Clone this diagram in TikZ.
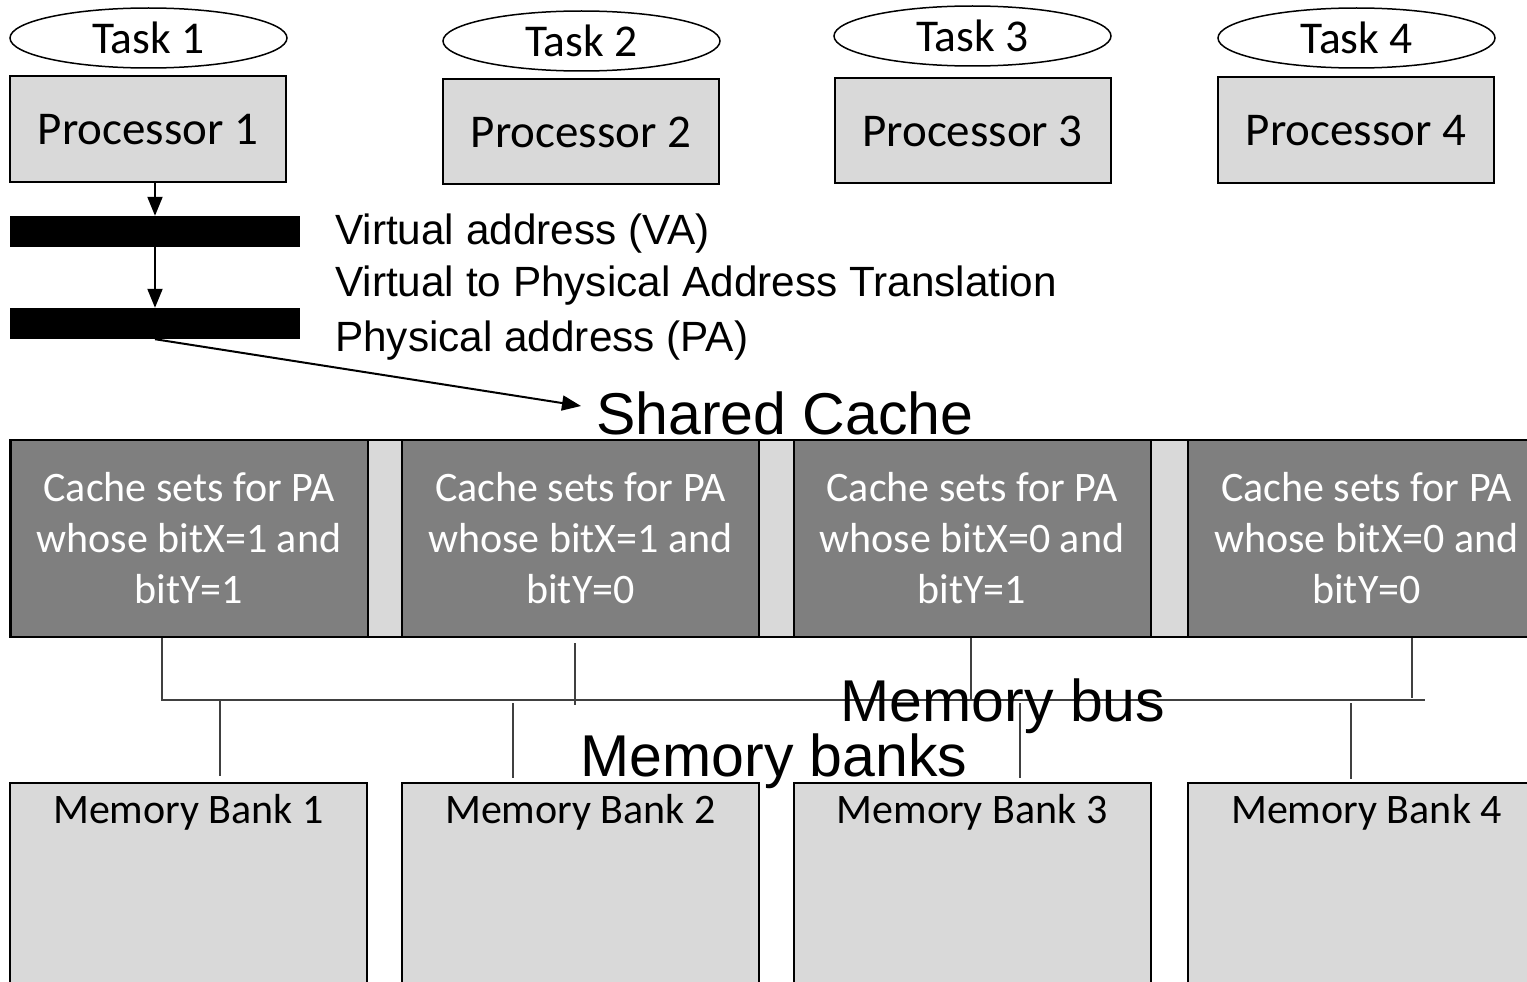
\documentclass[tikz,border=0pt]{standalone}
\usepackage{fontspec}
\setmainfont{Carlito}
\newfontfamily\labelfont{Liberation Sans}
\usetikzlibrary{shapes.geometric,arrows.meta}
\definecolor{boxgray}{HTML}{D9D9D9}
\definecolor{setgray}{HTML}{7F7F7F}
\definecolor{busgray}{HTML}{404040}
\begin{document}
\begin{tikzpicture}[x=1pt,y=-1pt,
  task/.style={ellipse,draw,line width=1.5pt,minimum width=277pt,minimum height=60pt,
    inner sep=0pt,font=\fontsize{45.5}{50}\selectfont},
  proc/.style={rectangle,draw,fill=boxgray,line width=2pt,minimum width=276pt,
    minimum height=105pt,inner sep=0pt,font=\fontsize{47}{56}\selectfont},
  addrbar/.style={rectangle,fill=black,minimum width=290pt,minimum height=31pt,inner sep=0pt},
  addrtext/.style={anchor=west,inner sep=0pt,font=\labelfont\fontsize{42.3}{50}\selectfont},
  bigtext/.style={inner sep=0pt,font=\labelfont\fontsize{59}{66}\selectfont},
  cacherowbg/.style={rectangle,draw,fill=boxgray,line width=2pt,minimum width=1530pt,
    minimum height=197pt,inner sep=0pt},
  cacheset/.style={rectangle,draw,fill=setgray,line width=2pt,text=white,
    minimum width=357pt,minimum height=197pt,inner sep=0pt,align=center,
    font=\fontsize{42}{51}\selectfont},
  bank/.style={rectangle,draw,fill=boxgray,line width=2pt,minimum width=357pt,
    minimum height=230pt,inner sep=0pt},
  banktext/.style={inner sep=0pt,font=\fontsize{42}{50}\selectfont},
  flow/.style={line width=2pt,-{Triangle[length=19pt,width=15pt]}},
  bus/.style={line width=1.2pt,draw=busgray}]

\clip (0,0) rectangle (1527,982);

% tasks and processors
\node[task] (T1) at (148.5,38) {Task 1};
\node[task] (T2) at (581.5,41) {Task 2};
\node[task] (T3) at (972.5,36) {Task 3};
\node[task] (T4) at (1356.5,38) {Task 4};

\node[proc] (P1) at (148,129) {};
\node[proc] (P2) at (581,131.5) {};
\node[proc] (P3) at (972.5,130.5) {};
\node[proc] (P4) at (1356,130) {};
\node[proc,draw=none,fill=none] (P1t) at ([yshift=-1pt]P1.center) {Processor 1};
\node[proc,draw=none,fill=none] (P2t) at ([yshift=-1pt]P2.center) {Processor 2};
\node[proc,draw=none,fill=none] (P3t) at ([yshift=-1pt]P3.center) {Processor 3};
\node[proc,draw=none,fill=none] (P4t) at ([yshift=-1pt]P4.center) {Processor 4};

% address translation
\node[addrbar] (VA) at (155,231.5) {};
\node[addrbar] (PA) at (155,323.5) {};
\node[addrtext] (VAt) at (335,234) {Virtual address (VA)};
\node[addrtext] (TRt) at (335,286) {Virtual to Physical Address Translation};
\node[addrtext] (PAt) at (335,341) {Physical address (PA)};

\draw[flow] (P1.south -| VA.north) -- (VA.north);
\draw[flow] (VA.south) -- (PA.north);

% shared cache
\node[bigtext,anchor=west] (SC) at (596,413) {Shared Cache};
\coordinate (SCin) at (581,406);
\draw[flow] (PA.south) -- (SCin);

\node[cacherowbg] (row) at (775,538.5) {};
\node[cacheset] (C1) at (189,538.5) {Cache sets for PA\\whose bitX=1 and\\bitY=1};
\node[cacheset] (C2) at (580.5,538.5) {Cache sets for PA\\whose bitX=1 and\\bitY=0};
\node[cacheset] (C3) at (972,538.5) {Cache sets for PA\\whose bitX=0 and\\bitY=1};
\node[cacheset] (C4) at (1366.5,538.5) {Cache sets for PA\\whose bitX=0 and\\bitY=0};

% memory banks
\node[bank] (M1) at (188.5,898) {};
\node[bank] (M2) at (580.5,898) {};
\node[bank] (M3) at (972,898) {};
\node[bank] (M4) at (1366.5,898) {};
\node[banktext] (M1t) at ([yshift=-30pt]M1.north) {Memory Bank 1};
\node[banktext] (M2t) at ([yshift=-30pt]M2.north) {Memory Bank 2};
\node[banktext] (M3t) at ([yshift=-30pt]M3.north) {Memory Bank 3};
\node[banktext] (M4t) at ([yshift=-30pt]M4.north) {Memory Bank 4};

% memory bus
\coordinate (busL) at (162,700);
\coordinate (busR) at (1425,700);
\coordinate (tapC2) at (575,705);
\coordinate (tapC3) at (971,700);
\coordinate (tapC4) at (1412,698);
\coordinate (tapM1) at (220,700);
\coordinate (tapM2) at (513,703);
\coordinate (tapM3) at (1020,703);
\coordinate (tapM4) at (1351,703);

\draw[bus] (busL |- C1.south) -- (busL) -- (busR);
\draw[bus] ([yshift=-5pt]tapC2 |- C2.south) -- (tapC2);
\draw[bus] (tapC3 |- C3.south) -- (tapC3);
\draw[bus] (tapC4 |- C4.south) -- (tapC4);
\draw[bus,shorten >=6pt] (tapM1) -- (tapM1 |- M1.north);
\draw[bus,shorten >=4pt] (tapM2) -- (tapM2 |- M2.north);
\draw[bus,shorten >=4pt] (tapM3) -- (tapM3 |- M3.north);
\draw[bus,shorten >=3pt] (tapM4) -- (tapM4 |- M4.north);

\node[bigtext] (MBus) at (1003,706) {Memory bus};
\node[bigtext] (MBanks) at (774,761) {Memory banks};
\end{tikzpicture}
\end{document}
